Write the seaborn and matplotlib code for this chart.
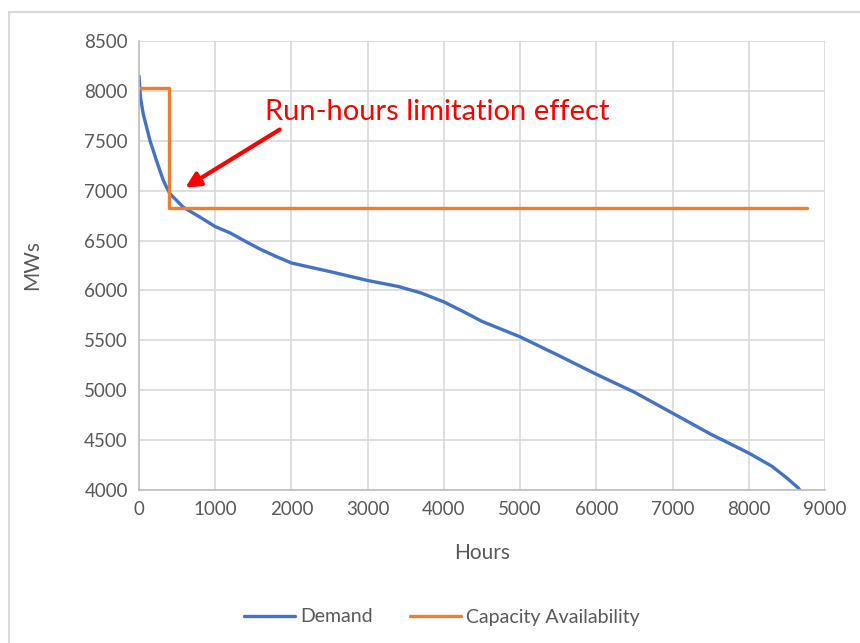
import seaborn as sns
import matplotlib.pyplot as plt
import pandas as pd
from matplotlib.patches import Rectangle

# load duration curve
demand_hours = [0, 20, 55, 145, 230, 320, 405, 580, 800, 1000, 1200, 1400, 1600, 1800,
                2000, 2500, 3000, 3400, 3700, 4000, 4250, 4500, 5000, 5500, 6000, 6500,
                7000, 7500, 8000, 8300, 8500, 8650, 8760]
demand_mw = [8150, 7930, 7770, 7500, 7300, 7100, 6970, 6835, 6735, 6640, 6575, 6490, 6410, 6340,
             6275, 6190, 6100, 6040, 5975, 5885, 5790, 5690, 5535, 5350, 5160, 4980,
             4770, 4560, 4370, 4240, 4120, 4020, 3900]

capacity_hours = [0, 400, 8760]
capacity_mw = [8030, 6830, 6830]

df_demand = pd.DataFrame({'Hours': demand_hours, 'MWs': demand_mw})
df_cap = pd.DataFrame({'Hours': capacity_hours, 'MWs': capacity_mw})

sns.set_theme(style='whitegrid')
plt.rcParams['font.family'] = ['Lato', 'DejaVu Sans']

fig = plt.figure(figsize=(8.6, 6.43), dpi=100)
ax = fig.add_axes([139 / 860, 1 - 490 / 643, (825 - 139) / 860, (490 - 41) / 643])

sns.lineplot(data=df_demand, x='Hours', y='MWs', ax=ax, color='#4472C4',
             linewidth=2.4, label='Demand')
sns.lineplot(data=df_cap, x='Hours', y='MWs', ax=ax, color='#ED7D31',
             linewidth=2.4, drawstyle='steps-post', label='Capacity Availability')

ax.set_xlim(0, 9000)
ax.set_ylim(4000, 8500)
ax.set_xticks(range(0, 9001, 1000))
ax.set_yticks(range(4000, 8501, 500))
ax.grid(True, color='#D9D9D9', linewidth=1.2)
ax.set_facecolor('white')
for side in ['top', 'right']:
    ax.spines[side].set_visible(False)
for side in ['left', 'bottom']:
    ax.spines[side].set_color('#BFBFBF')
    ax.spines[side].set_linewidth(1.2)
ax.tick_params(axis='both', colors='#595959', labelsize=13.5, length=0, pad=8)
ax.set_xlabel('Hours', fontsize=15, color='#595959', labelpad=18)
ax.set_ylabel('MWs', fontsize=15, color='#595959', labelpad=30)

ax.text(1650, 7790, 'Run-hours limitation effect', color='red', fontsize=21,
        ha='left', va='center')
ax.annotate('', xy=(577, 7016), xytext=(1877, 7627),
            arrowprops=dict(arrowstyle='-|>', color='red', lw=3, mutation_scale=22))

ax.get_legend().remove()
handles, labels = ax.get_legend_handles_labels()
fig.legend(handles, labels, loc='center', bbox_to_anchor=(0.514, 1 - 617 / 643),
           ncol=2, frameon=False, fontsize=14, labelcolor='#595959',
           handlelength=2.6, columnspacing=1.9, handletextpad=0.3)

fig.patches.append(Rectangle((9 / 860, -0.1), 1.2, 1.1 - 12 / 643, transform=fig.transFigure,
                             fill=False, edgecolor='#D9D9D9', linewidth=1.5))

fig.savefig('out.png', dpi=100)
